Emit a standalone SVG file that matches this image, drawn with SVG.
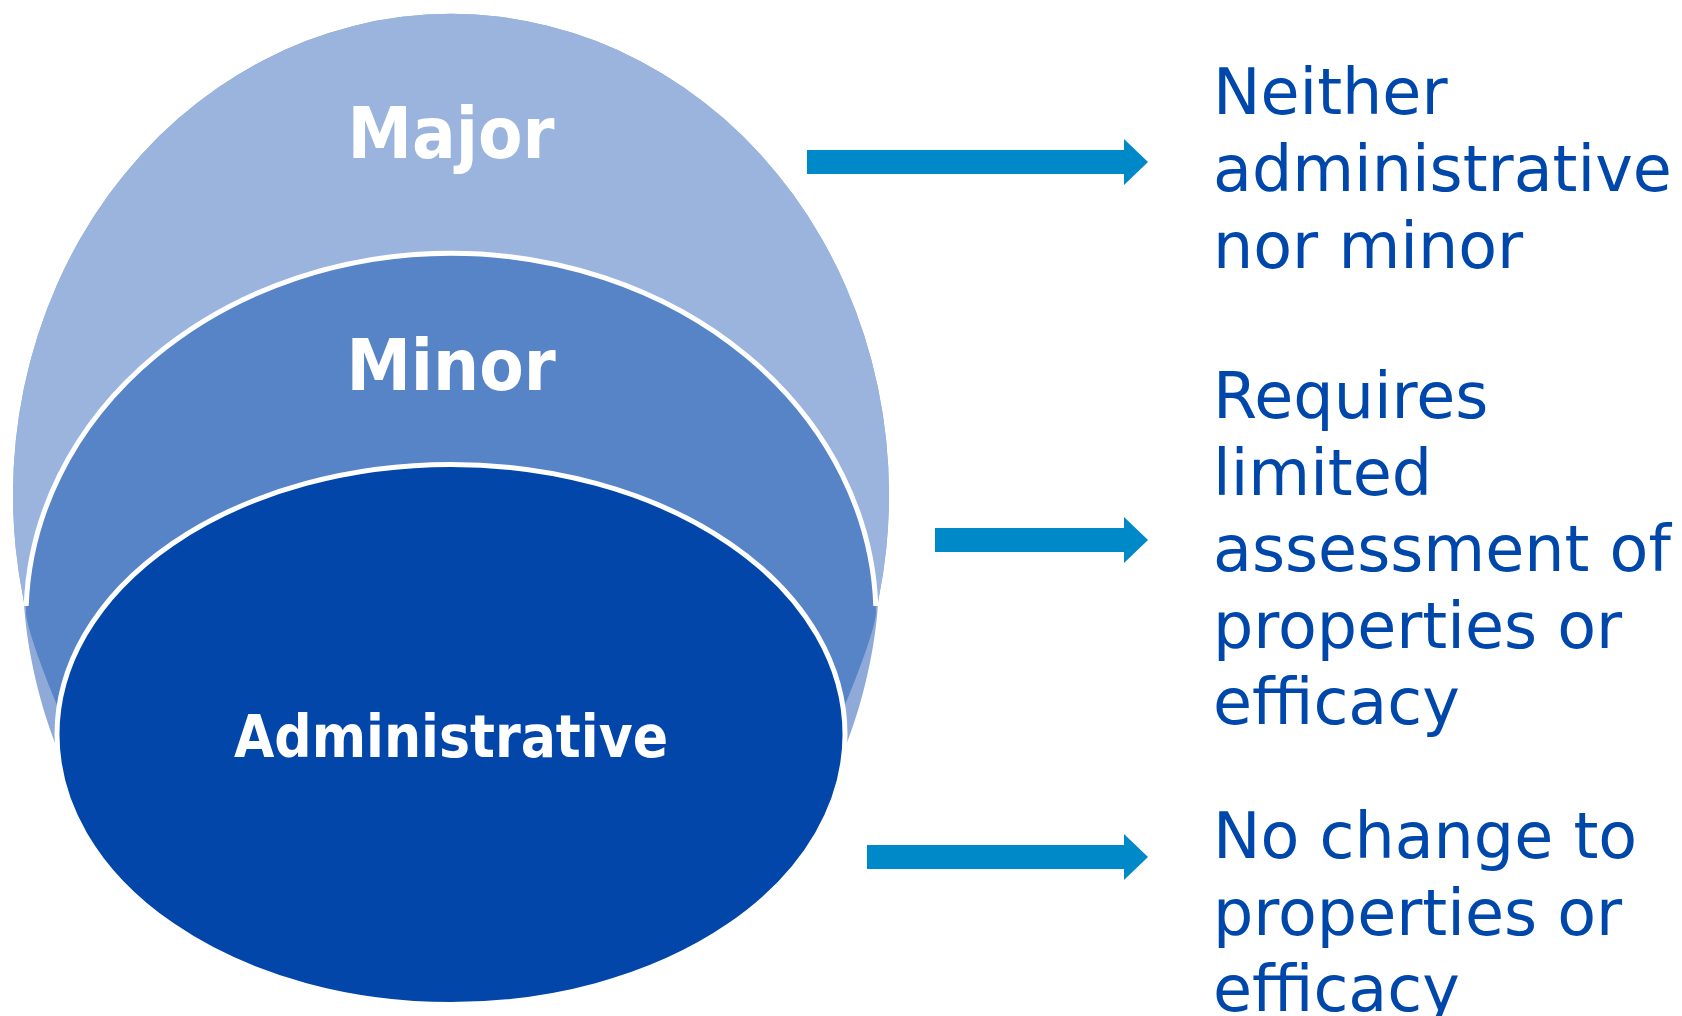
<svg xmlns="http://www.w3.org/2000/svg" width="1682" height="1016" viewBox="0 0 1682 1016">
  <style>
    .tier-label { font-family: "DejaVu Sans Condensed", "DejaVu Sans", sans-serif; font-stretch: condensed; font-weight: bold; fill: #ffffff; text-anchor: middle; }
    .note { font-family: "DejaVu Sans", "Liberation Sans", sans-serif; font-size: 63.5px; fill: #0047ab; }
    .arrow { fill: #0089c9; }
  </style>
  <defs>
    <!-- block arrow: shaft 24 high, head 46 high, 24 long; tip at origin -->
    <path id="arrowHead" d="M -24,-12 L -24,-23 L 0,0 L -24,23 L -24,12 Z"/>
  </defs>
  <rect width="1682" height="1016" fill="#ffffff"/>

  <!-- outer tier: Major -->
  <g id="major">
    <path fill="#8faad9" d="M 23.8,601 A 438 481 0 1 1 878.2,601 C 876,640 866,695 845,748 L 57,748 C 36,695 26,640 23.8,601 Z"/>
    <path fill="#9ab4dd" d="M 23.8,601 A 438 481 0 1 1 878.2,601 Z"/>
    <text class="tier-label" x="451" y="158" font-size="72">Major</text>
  </g>

  <!-- middle tier: Minor -->
  <g id="minor">
    <path fill="#5684c6" d="M 26.2,606 A 425 364 0 0 1 875.8,606 L 876,612 C 876,625 860,670 842,712 L 820,760 L 82,760 L 60,712 C 42,670 26,625 26,612 Z"/>
    <path fill="none" stroke="#ffffff" stroke-width="5" d="M 26.2,606 A 425 364 0 0 1 875.8,606"/>
    <text class="tier-label" x="451" y="390" font-size="72">Minor</text>
  </g>

  <!-- inner tier: Administrative -->
  <g id="administrative">
    <ellipse cx="451" cy="734.5" rx="394" ry="270" fill="#0246aa" stroke="#ffffff" stroke-width="5"/>
    <text class="tier-label" x="451" y="757" font-size="58">Administrative</text>
  </g>

  <!-- arrows from each tier to its description -->
  <g id="connectors">
    <g id="arrow-major">
      <rect class="arrow" x="807" y="150" width="318" height="24"/>
      <use href="#arrowHead" class="arrow" x="1148" y="162"/>
    </g>
    <g id="arrow-minor">
      <rect class="arrow" x="935" y="528" width="190" height="24"/>
      <use href="#arrowHead" class="arrow" x="1148" y="540"/>
    </g>
    <g id="arrow-administrative">
      <rect class="arrow" x="867" y="845" width="258" height="24"/>
      <use href="#arrowHead" class="arrow" x="1148" y="857"/>
    </g>
  </g>

  <!-- descriptions -->
  <g id="desc-major">
    <text class="note" x="1213" y="114">Neither</text>
    <text class="note" x="1213" y="191">administrative</text>
    <text class="note" x="1213" y="268">nor minor</text>
  </g>
  <g id="desc-minor">
    <text class="note" x="1213" y="418">Requires</text>
    <text class="note" x="1213" y="494.5">limited</text>
    <text class="note" x="1213" y="571">assessment of</text>
    <text class="note" x="1213" y="647.5">properties or</text>
    <text class="note" x="1213" y="724">efficacy</text>
  </g>
  <g id="desc-administrative">
    <text class="note" x="1213" y="858">No change to</text>
    <text class="note" x="1213" y="934.5">properties or</text>
    <text class="note" x="1213" y="1011">efficacy</text>
  </g>
</svg>
